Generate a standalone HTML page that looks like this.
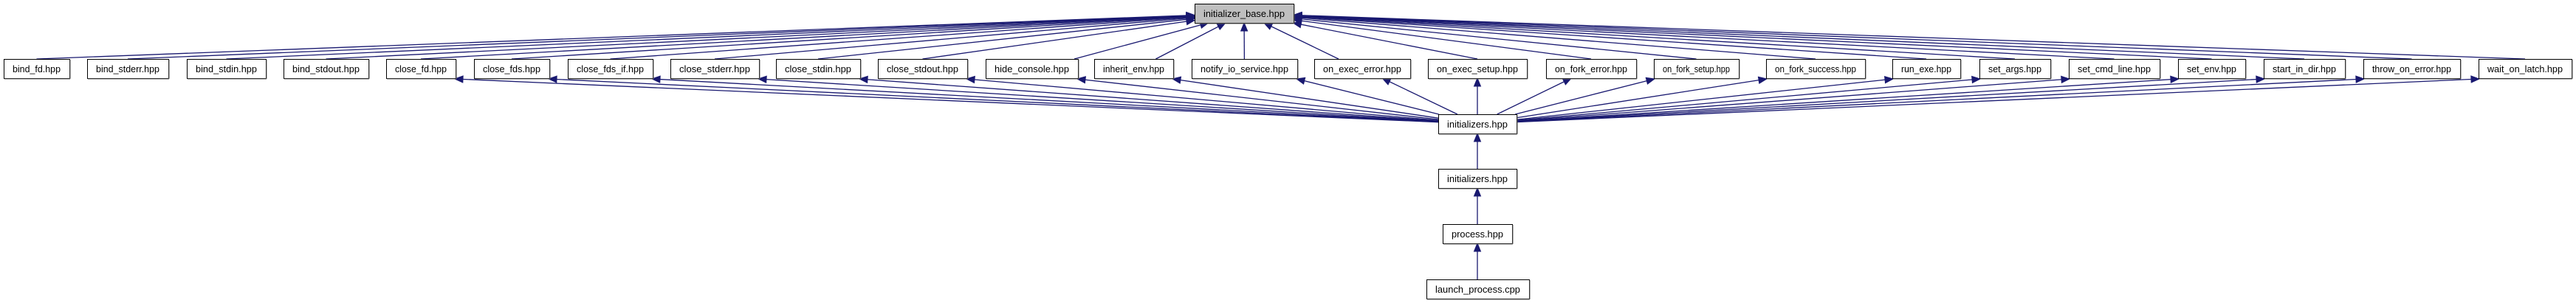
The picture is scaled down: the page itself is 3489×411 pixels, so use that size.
<!DOCTYPE html>
<html><head><meta charset="utf-8"><style>
html,body{margin:0;padding:0;background:#fff;}
svg{display:block;}
text{font-family:"Liberation Sans",Arial,sans-serif;font-size:13px;fill:#000;}
</style></head><body>
<svg id="g" width="3489" height="411" xmlns="http://www.w3.org/2000/svg"></svg>
<script>
const NS="http://www.w3.org/2000/svg";
const svg=document.getElementById('g');
const C="#191970";
function el(t,a,txt){const e=document.createElementNS(NS,t);for(const k in a)e.setAttribute(k,a[k]);if(txt!==undefined)e.textContent=txt;svg.appendChild(e);return e;}
const row=[
["bind_fd.hpp",5,94,0],["bind_stderr.hpp",118,228,0],["bind_stdin.hpp",253,360,0],["bind_stdout.hpp",384,499,0],
["close_fd.hpp",523,617,1],["close_fds.hpp",642,744,1],["close_fds_if.hpp",769,884,1],["close_stderr.hpp",908,1028,1],
["close_stdin.hpp",1051,1165,1],["close_stdout.hpp",1189,1310,1],["hide_console.hpp",1335,1460,1],["inherit_env.hpp",1482,1589,1],
["notify_io_service.hpp",1614,1757,1],["on_exec_error.hpp",1780,1910,1],["on_exec_setup.hpp",1934,2068,1],["on_fork_error.hpp",2094,2216,1],
["on_fork_setup.hpp",2240,2355,1],["on_fork_success.hpp",2392,2526,1],["run_exe.hpp",2563,2655,1],["set_args.hpp",2681,2777,1],
["set_cmd_line.hpp",2802,2925,1],["set_env.hpp",2950,3041,1],["start_in_dir.hpp",3066,3176,1],["throw_on_error.hpp",3201,3332,1],
["wait_on_latch.hpp",3357,3483,1]];
function clip(b,from,to){
  const [x1,y1,x2,y2]=b;let lo=0,hi=1;
  for(let i=0;i<40;i++){const m=(lo+hi)/2;const px=from[0]+(to[0]-from[0])*m,py=from[1]+(to[1]-from[1])*m;
    if(px>=x1&&px<=x2&&py>=y1&&py<=y2)hi=m;else lo=m;}
  return [from[0]+(to[0]-from[0])*hi,from[1]+(to[1]-from[1])*hi];
}
function edge(s,t){
  el('path',{d:`M${s[0]},${s[1]} L${t[0]},${t[1]}`,stroke:C,'stroke-width':1.3,fill:'none'});
  const dx=t[0]-s[0],dy=t[1]-s[1],L=Math.hypot(dx,dy),ux=dx/L,uy=dy/L;
  const bx=t[0]-ux*11,by=t[1]-uy*11;
  el('polygon',{points:`${t[0]},${t[1]} ${bx-uy*4.5},${by+ux*4.5} ${bx+uy*4.5},${by-ux*4.5}`,fill:C,stroke:C});
}
const TOP=[1618,5,1752,31], TC=[1685,18];
const INI=[1948,155,2054,181], IC=[2001,168];
row.forEach(r=>{
  const cx=(r[1]+r[2])/2;
  const box=[r[1],80,r[2],106];
  let sx = cx<1685 ? Math.min(r[2]-4,Math.max(cx,r[1])) : Math.max(r[1]+4,cx);
  if(Math.abs(cx-1685)<300) sx=cx+(1685-cx)*0.2;
  const s=[sx,80];
  const t=clip(TOP,s,TC);
  edge(s,t);
  if(r[3]){
    let t2;
    if(cx<IC[0]-200) t2=[r[2]-1,107];
    else if(cx>IC[0]+200) t2=[r[1]+1,107];
    else t2=clip(box,IC,[cx,93]);
    const s2=clip(INI,t2,IC);
    edge(s2,t2);
  }
});
edge([2001,229],[2001,181]);
edge([2001,304],[2001,255]);
edge([2001,379],[2001,330]);
function node(lbl,x1,y1,x2,y2,fill){
  el('rect',{x:x1+0.5,y:y1+0.5,width:x2-x1,height:y2-y1,fill:fill||'#fff',stroke:'#000','stroke-width':1});
  el('line',{x1:x1+1,y1:y2+1,x2:x2+1,y2:y2+1,stroke:'#666','stroke-width':1});
  el('line',{x1:x2+1,y1:y1+1,x2:x2+1,y2:y2+1,stroke:'#666','stroke-width':1});
  el('text',{x:(x1+x2)/2,y:(y1+y2)/2+5,'text-anchor':'middle',textLength:Math.max(10,x2-x1-24),lengthAdjust:'spacingAndGlyphs'},lbl);
}
node("initializer_base.hpp",1618,5,1752,31,'#bfbfbf');
row.forEach(r=>node(r[0],r[1],80,r[2],106));
node("initializers.hpp",1948,155,2054,181);
node("initializers.hpp",1948,229,2054,255);
node("process.hpp",1954,304,2048,330);
node("launch_process.cpp",1932,379,2071,405);
</script>
</body></html>
